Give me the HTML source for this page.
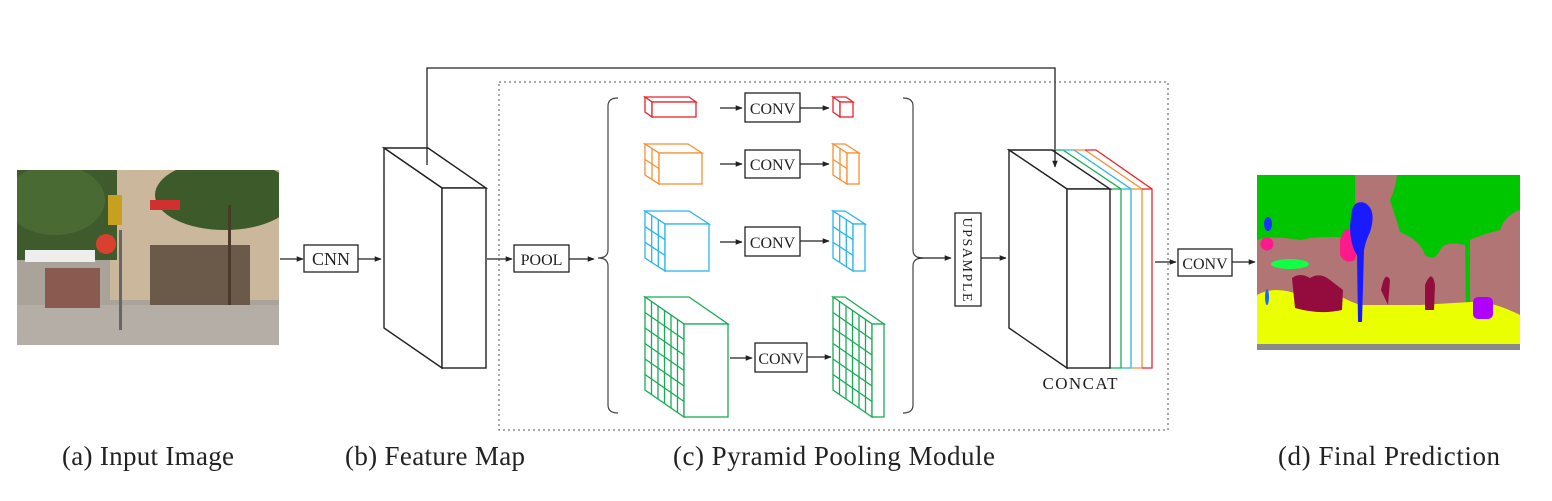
<!DOCTYPE html>
<html><head><meta charset="utf-8"><style>
html,body{margin:0;padding:0;background:#fff}
svg{display:block}
text{font-family:"Liberation Serif",serif;fill:#222}
</style></head><body>
<svg width="1552" height="501" viewBox="0 0 1552 501" xmlns="http://www.w3.org/2000/svg">
<defs>
<marker id="ah" viewBox="0 0 10 10" refX="9" refY="5" markerWidth="7" markerHeight="7" orient="auto" markerUnits="userSpaceOnUse"><path d="M0,1 L10,5 L0,9 z" fill="#222"/></marker>
<clipPath id="ci"><rect x="17" y="170" width="262" height="175"/></clipPath>
<clipPath id="cp"><rect x="1257" y="175" width="263" height="175"/></clipPath>
</defs>
<g clip-path="url(#ci)">
<rect x="17" y="170" width="262" height="175" fill="#a9a39a"/>
<rect x="110" y="170" width="169" height="130" fill="#cbb79c"/>
<rect x="17" y="170" width="100" height="90" fill="#3f5a2c"/>
<rect x="150" y="245" width="100" height="60" fill="#6b5a4a"/>
<ellipse cx="225" cy="195" rx="70" ry="35" fill="#3c5a2a"/>
<ellipse cx="55" cy="200" rx="50" ry="35" fill="#4a6a33"/>
<rect x="150" y="200" width="30" height="10" fill="#d03030"/>
<rect x="25" y="250" width="70" height="12" fill="#eeeeee"/>
<rect x="17" y="305" width="262" height="40" fill="#b4aea6"/>
<rect x="45" y="268" width="55" height="40" fill="#8a5a50"/>
<circle cx="106" cy="244" r="10" fill="#d84030"/>
<rect x="108" y="195" width="14" height="30" fill="#c8a020"/>
<rect x="119" y="230" width="3" height="100" fill="#666"/>
<rect x="228" y="205" width="3" height="100" fill="#4a3a2a"/>
</g>
<line x1="280" y1="259" x2="303" y2="259" stroke="#222" stroke-width="1.3" marker-end="url(#ah)"/>
<rect x="304" y="245" width="54" height="27" fill="#fff" stroke="#222" stroke-width="1.3"/>
<text x="331" y="265" font-size="18" text-anchor="middle">CNN</text>
<line x1="358" y1="259" x2="381" y2="259" stroke="#222" stroke-width="1.3" marker-end="url(#ah)"/>
<g fill="#fff" stroke="#222" stroke-width="1.4">
<polygon points="384,148 428,148 486,188 442,188"/>
<polygon points="384,148 442,188 442,368 384,328"/>
<rect x="442" y="188" width="44" height="180"/>
</g>
<polyline points="427,165 427,68 1055,68 1055,167" fill="none" stroke="#222" stroke-width="1.3" marker-end="url(#ah)"/>
<rect x="499" y="82" width="669" height="348" fill="none" stroke="#555" stroke-width="1" stroke-dasharray="2,3"/>
<line x1="487" y1="259" x2="512" y2="259" stroke="#222" stroke-width="1.3" marker-end="url(#ah)"/>
<rect x="514" y="245" width="55" height="27" fill="#fff" stroke="#222" stroke-width="1.3"/>
<text x="541.5" y="265" font-size="16" text-anchor="middle">POOL</text>
<line x1="569" y1="259" x2="594" y2="259" stroke="#222" stroke-width="1.3" marker-end="url(#ah)"/>
<path d="M618,98 Q608,98 608,106 L608,250 Q608,258 598,258 Q608,258 608,266 L608,405 Q608,413 618,413" fill="none" stroke="#444" stroke-width="1.2"/>
<path d="M903,98 Q913,98 913,106 L913,250 Q913,258 923,258 Q913,258 913,266 L913,405 Q913,413 903,413" fill="none" stroke="#444" stroke-width="1.2"/>
<g fill="#fff" stroke="#e8242c" stroke-width="1.3">
<polygon points="645,97 689,97 696,102 652,102"/><polygon points="645,97 652,102 652,117 645,112"/><rect x="652" y="102" width="44" height="15"/>
<polygon points="833,97 846,97 853,102 840,102"/><polygon points="833,97 840,102 840,117 833,112"/><rect x="840" y="102" width="13" height="15"/>
</g>
<g fill="#fff" stroke="#f39034" stroke-width="1.3">
<polygon points="645,144 688,144 702,153 659,153"/><polygon points="645,144 659,153 659,184 645,175"/><rect x="659" y="153" width="43" height="31"/>
<line x1="652" y1="148.5" x2="652" y2="179.5"/><line x1="645" y1="159.5" x2="659" y2="168.5"/>
<polygon points="833,144 845,144 859,153 847,153"/><polygon points="833,144 847,153 847,184 833,175"/><rect x="847" y="153" width="12" height="31"/>
<line x1="840" y1="148.5" x2="840" y2="179.5"/><line x1="833" y1="159.5" x2="847" y2="168.5"/>
</g>
<g fill="#fff" stroke="#2bb5ea" stroke-width="1.3">
<polygon points="645,211 689,211 709,224 665,224"/><polygon points="645,211 665,224 665,271 645,258"/><rect x="665" y="224" width="44" height="47"/>
<g id="bg"><line x1="651.7" y1="215.3" x2="651.7" y2="262.3"/><line x1="658.3" y1="219.7" x2="658.3" y2="266.7"/><line x1="645" y1="226.7" x2="665" y2="239.7"/><line x1="645" y1="242.3" x2="665" y2="255.3"/></g>
<polygon points="833,211 845,211 865,224 853,224"/><polygon points="833,211 853,224 853,271 833,258"/><rect x="853" y="224" width="12" height="47"/>
<use href="#bg" transform="translate(188,0)"/>
</g>
<g fill="#fff" stroke="#1aaa55" stroke-width="1.3">
<polygon points="645,297 689,297 728,324 684,324"/><polygon points="645,297 684,324 684,417 645,390"/><rect x="684" y="324" width="44" height="93"/>
<g id="gg">
<line x1="651.5" y1="301.5" x2="651.5" y2="394.5"/><line x1="658" y1="306" x2="658" y2="399"/><line x1="664.5" y1="310.5" x2="664.5" y2="403.5"/><line x1="671" y1="315" x2="671" y2="408"/><line x1="677.5" y1="319.5" x2="677.5" y2="412.5"/>
<line x1="645" y1="312.5" x2="684" y2="339.5"/><line x1="645" y1="328" x2="684" y2="355"/><line x1="645" y1="343.5" x2="684" y2="370.5"/><line x1="645" y1="359" x2="684" y2="386"/><line x1="645" y1="374.5" x2="684" y2="401.5"/>
</g>
<polygon points="833,297 845,297 884,324 872,324"/><polygon points="833,297 872,324 872,417 833,390"/><rect x="872" y="324" width="12" height="93"/>
<use href="#gg" transform="translate(188,0)"/>
</g>
<g stroke="#222" stroke-width="1.3">
<line x1="720" y1="108" x2="742" y2="108" marker-end="url(#ah)"/><line x1="800" y1="108" x2="829" y2="108" marker-end="url(#ah)"/>
<line x1="720" y1="164" x2="742" y2="164" marker-end="url(#ah)"/><line x1="800" y1="164" x2="829" y2="164" marker-end="url(#ah)"/>
<line x1="720" y1="242" x2="742" y2="242" marker-end="url(#ah)"/><line x1="800" y1="241" x2="829" y2="241" marker-end="url(#ah)"/>
<line x1="730" y1="358" x2="752" y2="358" marker-end="url(#ah)"/><line x1="807" y1="357" x2="831" y2="357" marker-end="url(#ah)"/>
<g fill="#fff">
<rect x="745" y="93" width="55" height="29"/><rect x="745" y="150" width="55" height="28"/><rect x="745" y="227" width="55" height="29"/><rect x="755" y="343" width="52" height="29"/>
</g></g>
<g font-size="16" text-anchor="middle">
<text x="772.5" y="114">CONV</text><text x="772.5" y="170">CONV</text><text x="772.5" y="248">CONV</text><text x="781" y="364">CONV</text>
</g>
<line x1="918" y1="258" x2="951" y2="258" stroke="#222" stroke-width="1.3" marker-end="url(#ah)"/>
<rect x="955" y="213" width="26" height="93" fill="#fff" stroke="#222" stroke-width="1.3"/>
<text x="0" y="0" font-size="14" text-anchor="middle" textLength="84" transform="translate(963,259.5) rotate(90)">UPSAMPLE</text>
<line x1="981" y1="258" x2="1006" y2="258" stroke="#222" stroke-width="1.3" marker-end="url(#ah)"/>
<g fill="none" stroke-width="1.3">
<polyline stroke="#1aaa55" points="1052,150 1063,150 1121,189 1121,368 1110,368"/>
<polyline stroke="#1aaa55" points="1110,189 1121,189"/>
<polyline stroke="#2bb5ea" points="1063,150 1074,150 1131,189 1131,368 1121,368"/>
<polyline stroke="#2bb5ea" points="1121,189 1131,189"/>
<polyline stroke="#f39034" points="1074,150 1085,150 1142,189 1142,368 1131,368"/>
<polyline stroke="#f39034" points="1131,189 1142,189"/>
<polyline stroke="#e8242c" points="1085,150 1096,150 1152,189 1152,368 1142,368"/>
<polyline stroke="#e8242c" points="1142,189 1152,189"/>
</g>
<g fill="#fff" stroke="#222" stroke-width="1.4">
<polygon points="1009,150 1052,150 1110,189 1067,189"/>
<polygon points="1009,150 1067,189 1067,368 1009,328"/>
<rect x="1067" y="189" width="43" height="179"/>
</g>
<line x1="1055" y1="150" x2="1055" y2="167" stroke="#222" stroke-width="1.3" marker-end="url(#ah)"/>
<text x="1080" y="389" font-size="17" text-anchor="middle" textLength="75">CONCAT</text>
<line x1="1155" y1="262" x2="1176" y2="262" stroke="#222" stroke-width="1.3" marker-end="url(#ah)"/>
<rect x="1178" y="249" width="54" height="27" fill="#fff" stroke="#222" stroke-width="1.3"/>
<text x="1205" y="269" font-size="16" text-anchor="middle">CONV</text>
<line x1="1232" y1="262" x2="1255" y2="262" stroke="#222" stroke-width="1.3" marker-end="url(#ah)"/>
<g clip-path="url(#cp)">
<rect x="1257" y="175" width="263" height="175" fill="#b07574"/>
<path d="M1257,175 L1355,175 L1355,238 Q1320,235 1300,240 Q1270,235 1257,240 Z" fill="#00c600"/>
<path d="M1397,175 L1520,175 L1520,210 Q1505,215 1500,230 Q1480,235 1470,240 L1470,320 L1466,320 L1465,245 Q1445,240 1440,250 Q1435,262 1425,255 Q1420,240 1400,232 Q1395,215 1390,200 Q1395,190 1397,175 Z" fill="#00c600"/>
<path d="M1257,295 Q1275,285 1300,295 L1330,290 Q1345,300 1360,305 L1420,305 L1470,302 Q1490,300 1520,315 L1520,345 L1257,345 Z" fill="#eaff00"/>
<rect x="1257" y="344" width="263" height="6" fill="#8a8a8a"/>
<path d="M1292,278 Q1300,272 1310,278 Q1320,272 1330,280 L1343,290 L1342,310 Q1320,315 1295,308 Z" fill="#940b3e"/>
<path d="M1381,290 Q1385,270 1390,280 L1388,305 Z" fill="#940b3e"/>
<path d="M1425,285 Q1432,268 1435,285 L1434,310 L1425,310 Z" fill="#940b3e"/>
<ellipse cx="1290" cy="264" rx="19" ry="5" fill="#11ff44"/>
<circle cx="1267" cy="244" r="6.5" fill="#ff1a8c"/>
<ellipse cx="1268" cy="224" rx="4" ry="7" fill="#1a33ff"/>
<path d="M1340,240 Q1345,225 1350,230 Q1362,240 1355,260 Q1345,265 1340,255 Z" fill="#ff1a8c"/>
<path d="M1352,210 Q1355,200 1365,203 Q1377,210 1370,232 Q1366,240 1364,250 L1362,322 L1358,322 L1357,255 Q1350,245 1350,225 Z" fill="#1a1aff"/>
<rect x="1473" y="297" width="20" height="22" rx="5" fill="#b000ff"/>
<ellipse cx="1267" cy="297" rx="2" ry="8" fill="#1a66ff"/>
</g>
<g font-size="27" text-anchor="middle">
<text x="148" y="465" textLength="172">(a) Input Image</text>
<text x="435" y="465" textLength="180">(b) Feature Map</text>
<text x="834" y="465" textLength="322">(c) Pyramid Pooling Module</text>
<text x="1389" y="465" textLength="222">(d) Final Prediction</text>
</g>
</svg>
</body></html>
